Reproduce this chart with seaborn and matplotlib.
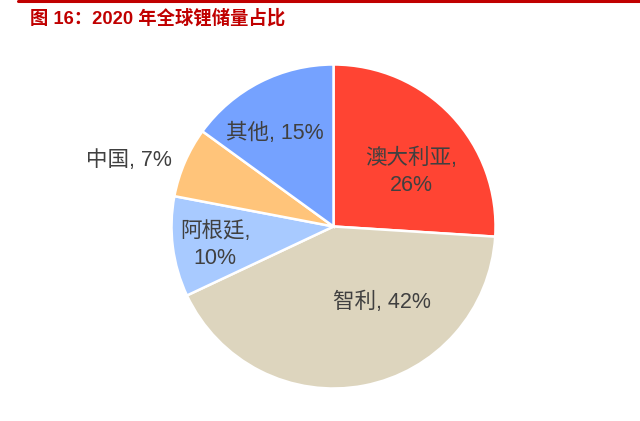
import numpy as np
import matplotlib
matplotlib.use("Agg")
import matplotlib.pyplot as plt
import seaborn as sns

sns.set_theme(style="white")
plt.rcParams['font.family'] = ['Liberation Sans', 'Noto Sans CJK SC', 'DejaVu Sans']

# data
countries = ["澳大利亚", "智利", "阿根廷", "中国", "其他"]
shares = [26, 42, 10, 7, 15]
label_texts = ["澳大利亚,\n26%", "智利, 42%", "阿根廷,\n10%", "中国, 7%", "其他, 15%"]
colors = ["#FF4433", "#DDD5BE", "#A8CAFF", "#FFC47A", "#75A2FF"]

# label placement: radial distance (in radii) and angle tweak (deg)
label_dist = [0.585, 0.554, 0.74, 1.325, 0.68]
label_dtheta = [-8.0, 21.9, 1.7, 5.6, 5.0]

fig = plt.figure(figsize=(6.4, 4.21), dpi=100)
ax = fig.add_axes([0.268, 0.0772, 0.50625, 0.7696])

wedges, _ = ax.pie(shares, colors=colors, startangle=90, counterclock=False,
                   radius=1.0, wedgeprops=dict(edgecolor="white", linewidth=1.8))
ax.set_xlim(-1, 1)
ax.set_ylim(-1, 1)
ax.set_aspect("equal")
ax.axis("off")

for w, txt, d, dt in zip(wedges, label_texts, label_dist, label_dtheta):
    mid = np.deg2rad((w.theta1 + w.theta2) / 2 + dt)
    ax.text(d * np.cos(mid), d * np.sin(mid), txt, ha="center", va="center",
            fontsize=15.5, color="#404040", linespacing=1.35)

# title and red rule
fig.add_artist(plt.Line2D([18 / 640, 1], [1 - 1 / 421, 1 - 1 / 421],
                          color="#C00000", linewidth=2.2))
fig.text(30 / 640, 1 - 18 / 421, "图 16：2020 年全球锂储量占比", ha="left", va="center",
         fontsize=13.2, fontweight="bold", color="#C00000")

fig.savefig("out.png", dpi=100)
